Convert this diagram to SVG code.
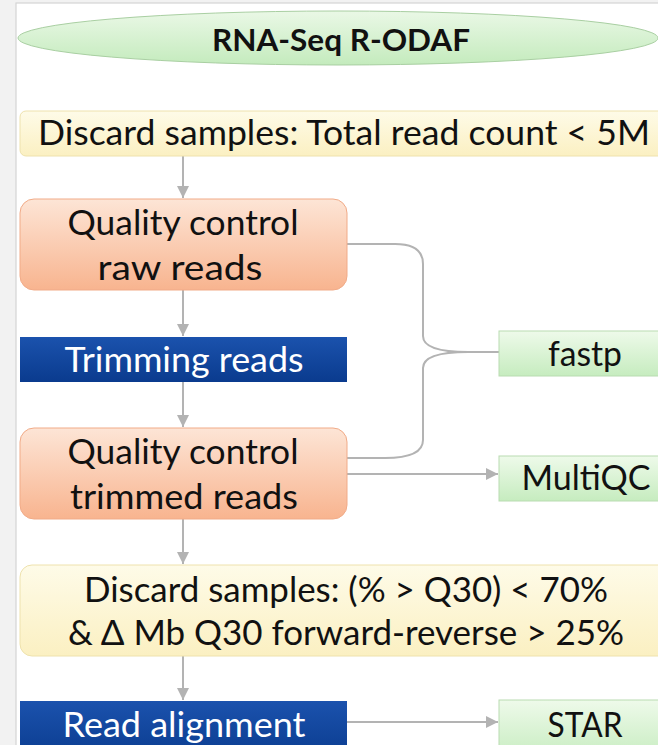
<svg xmlns="http://www.w3.org/2000/svg" width="658" height="745" viewBox="0 0 658 745">
  <style>
    .t { font-family: Lato, "Liberation Sans", sans-serif; fill: #111; text-anchor: middle; font-size: 35px; }
    .w { fill: #ffffff; }
    .b { font-weight: bold; }
    .conn { fill: none; stroke: #b3b3b3; stroke-width: 2; }
  </style>
  <defs>
    <linearGradient id="gTitle" x1="0" y1="0" x2="0" y2="1">
      <stop offset="0" stop-color="#eaf8e6"/>
      <stop offset="1" stop-color="#c4ebbd"/>
    </linearGradient>
    <linearGradient id="gYellow" x1="0" y1="0" x2="0" y2="1">
      <stop offset="0" stop-color="#fefbe8"/>
      <stop offset="1" stop-color="#fbf0c2"/>
    </linearGradient>
    <linearGradient id="gSalmon" x1="0" y1="0" x2="0" y2="1">
      <stop offset="0" stop-color="#fde5d6"/>
      <stop offset="1" stop-color="#f8b48f"/>
    </linearGradient>
    <linearGradient id="gNavy" x1="0" y1="0" x2="0" y2="1">
      <stop offset="0" stop-color="#1b52ad"/>
      <stop offset="1" stop-color="#0a3b8e"/>
    </linearGradient>
    <linearGradient id="gGreen" x1="0" y1="0" x2="0" y2="1">
      <stop offset="0" stop-color="#eefaea"/>
      <stop offset="1" stop-color="#c6ecbf"/>
    </linearGradient>
    <marker id="arr" viewBox="0 0 10 10" refX="10" refY="5" markerWidth="6" markerHeight="6" markerUnits="strokeWidth" orient="auto">
      <path d="M0,0 L10,5 L0,10 z" fill="#b3b3b3"/>
    </marker>
  </defs>

  <!-- page frame -->
  <rect x="0" y="0" width="658" height="745" fill="#f2f2f2"/>
  <rect x="16" y="3" width="660" height="760" fill="#ffffff" stroke="#d4d4d4" stroke-width="1.2"/>

  <!-- connectors -->
  <g id="connectors">
    <line class="conn" x1="183" y1="156" x2="183" y2="198" marker-end="url(#arr)"/>
    <line class="conn" x1="183" y1="290" x2="183" y2="336" marker-end="url(#arr)"/>
    <line class="conn" x1="183" y1="382" x2="183" y2="427" marker-end="url(#arr)"/>
    <line class="conn" x1="183" y1="519" x2="183" y2="564" marker-end="url(#arr)"/>
    <line class="conn" x1="183" y1="656" x2="183" y2="700" marker-end="url(#arr)"/>
    <path class="conn" d="M347,244 H395 Q423,244 423,264 V336 Q423,352 468,352 H499"/>
    <path class="conn" d="M468,352 Q423,352 423,368 V440 Q423,458 385,458 H347"/>
    <line class="conn" x1="347" y1="474" x2="498" y2="474" marker-end="url(#arr)"/>
    <line class="conn" x1="347" y1="722" x2="498" y2="722" marker-end="url(#arr)"/>
  </g>

  <g id="title">
    <ellipse cx="338" cy="38" rx="320" ry="27" fill="url(#gTitle)" stroke="#a9cfa2" stroke-width="1"/>
    <text class="t b" x="341" y="51" style="font-size:31px" textLength="258" lengthAdjust="spacingAndGlyphs">RNA-Seq R-ODAF</text>
  </g>

  <g id="discard-readcount">
    <rect x="20" y="111" width="660" height="45" rx="6" fill="url(#gYellow)" stroke="#eee2ad" stroke-width="1"/>
    <text class="t" x="344" y="145" textLength="612" lengthAdjust="spacingAndGlyphs">Discard samples: Total read count &lt; 5M</text>
  </g>

  <g id="qc-raw">
    <rect x="20" y="199" width="327" height="91" rx="14" fill="url(#gSalmon)" stroke="#f1ab88" stroke-width="1"/>
    <text class="t" x="183" y="235" textLength="231" lengthAdjust="spacingAndGlyphs">Quality control</text>
    <text class="t" x="180" y="280" textLength="165" lengthAdjust="spacingAndGlyphs">raw reads</text>
  </g>

  <g id="trimming">
    <rect x="20" y="337" width="327" height="45" fill="url(#gNavy)"/>
    <text class="t w" x="184" y="372" textLength="239" lengthAdjust="spacingAndGlyphs">Trimming reads</text>
  </g>

  <g id="qc-trimmed">
    <rect x="20" y="428" width="327" height="91" rx="14" fill="url(#gSalmon)" stroke="#f1ab88" stroke-width="1"/>
    <text class="t" x="183" y="464" textLength="231" lengthAdjust="spacingAndGlyphs">Quality control</text>
    <text class="t" x="184" y="509" textLength="228" lengthAdjust="spacingAndGlyphs">trimmed reads</text>
  </g>

  <g id="discard-q30">
    <rect x="20" y="565" width="660" height="91" rx="12" fill="url(#gYellow)" stroke="#eee2ad" stroke-width="1"/>
    <text class="t" x="346" y="602" textLength="524" lengthAdjust="spacingAndGlyphs">Discard samples: (% &gt; Q30) &lt; 70%</text>
    <text class="t" x="346" y="645" textLength="556" lengthAdjust="spacingAndGlyphs">&amp; Δ Mb Q30 forward-reverse &gt; 25%</text>
  </g>

  <g id="alignment">
    <rect x="20" y="701" width="327" height="60" fill="url(#gNavy)"/>
    <text class="t w" x="184" y="737" textLength="243" lengthAdjust="spacingAndGlyphs">Read alignment</text>
  </g>

  <g id="fastp">
    <rect x="499" y="331" width="180" height="45" fill="url(#gGreen)" stroke="#b9dcb1" stroke-width="1"/>
    <text class="t" x="585" y="366" textLength="74" lengthAdjust="spacingAndGlyphs">fastp</text>
  </g>

  <g id="multiqc">
    <rect x="499" y="456" width="180" height="45" fill="url(#gGreen)" stroke="#b9dcb1" stroke-width="1"/>
    <text class="t" x="586" y="490" textLength="129" lengthAdjust="spacingAndGlyphs">MultiQC</text>
  </g>

  <g id="star">
    <rect x="499" y="700" width="180" height="60" fill="url(#gGreen)" stroke="#b9dcb1" stroke-width="1"/>
    <text class="t" x="585" y="737" textLength="75" lengthAdjust="spacingAndGlyphs">STAR</text>
  </g>
</svg>
